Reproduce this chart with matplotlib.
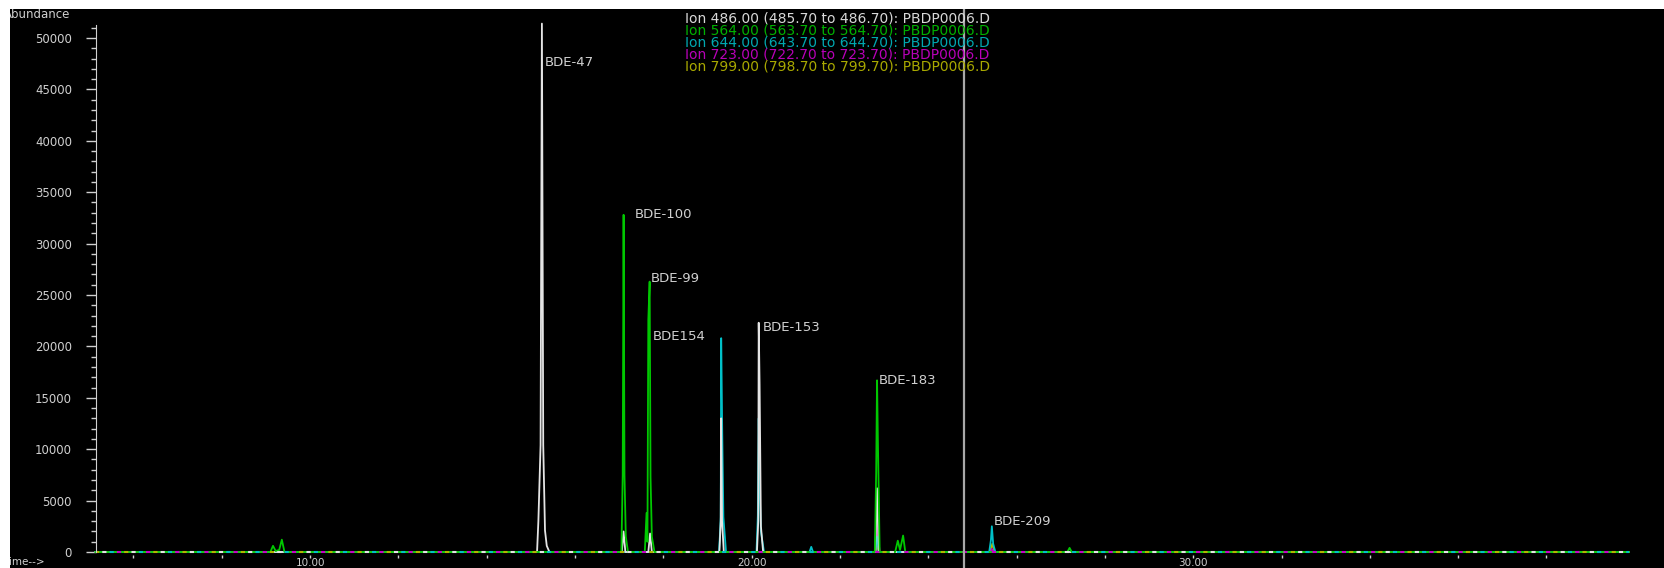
import matplotlib
matplotlib.use("Agg")
import matplotlib.pyplot as plt
from matplotlib.patches import Rectangle
from matplotlib.ticker import MultipleLocator, FormatStrFormatter

# --- data (time in min, abundance) ---
T_START, T_END = 5.14, 39.87

# Ion 486 (white)
ion486_t = [15.14, 15.17, 15.22, 15.25, 15.28, 15.32, 15.36, 15.42,
            17.06, 17.10, 17.14, 17.66, 17.70, 17.74,
            19.27, 19.30, 19.31, 19.33, 19.37,
            20.12, 20.15, 20.16, 20.18, 20.21, 20.26,
            22.80, 22.84, 22.88]
ion486_y = [0, 3000, 10400, 51400, 10400, 2100, 600, 0,
            0, 2000, 0, 0, 1800, 0,
            0, 3000, 13000, 3000, 0,
            0, 3000, 22300, 16300, 2500, 0,
            0, 6200, 0]

# Ion 564 (green)
ion564_t = [9.10, 9.16, 9.22, 9.30, 9.36, 9.42,
            17.05, 17.08, 17.10, 17.12, 17.15, 17.20,
            17.58, 17.62, 17.64, 17.66, 17.69, 17.71, 17.74, 17.80,
            22.79, 22.82, 22.84, 22.86, 22.90,
            23.25, 23.31, 23.36, 23.43, 23.48,
            27.15, 27.20, 27.25]
ion564_y = [0, 600, 100, 200, 1200, 0,
            0, 7500, 32800, 7500, 1500, 0,
            0, 3800, 1000, 22600, 26300, 7300, 1500, 0,
            0, 7700, 16700, 10600, 0,
            0, 1100, 200, 1600, 0,
            0, 400, 0]

# Ion 644 (cyan)
ion644_t = [19.26, 19.28, 19.30, 19.31, 19.33, 19.36, 19.42,
            20.11, 20.14, 20.16, 20.18, 20.21, 20.28,
            21.31, 21.35, 21.39,
            22.80, 22.84, 22.88,
            25.38, 25.42, 25.44, 25.47, 25.52]
ion644_y = [0, 1500, 3400, 20800, 13000, 3400, 0,
            0, 3500, 13000, 6300, 2000, 0,
            0, 500, 0,
            0, 1500, 0,
            0, 1200, 2500, 800, 0]

# Ion 723 (magenta)
ion723_t = [22.80, 22.83, 22.84, 22.86, 22.90, 25.40, 25.44, 25.48]
ion723_y = [0, 2000, 4500, 1500, 0, 0, 300, 0]

# Ion 799 (yellow)
ion799_t = [22.80, 22.84, 22.88, 25.40, 25.45, 25.50]
ion799_y = [0, 600, 0, 0, 800, 0]

legend_lines = [
    "Ion 486.00 (485.70 to 486.70): PBDP0006.D",
    "Ion 564.00 (563.70 to 564.70): PBDP0006.D",
    "Ion 644.00 (643.70 to 644.70): PBDP0006.D",
    "Ion 723.00 (722.70 to 723.70): PBDP0006.D",
    "Ion 799.00 (798.70 to 799.70): PBDP0006.D",
]

peak_names = ["BDE-47", "BDE-100", "BDE-99", "BDE154", "BDE-153", "BDE-183", "BDE-209"]
label_t = [15.32, 17.35, 17.71, 17.76, 20.26, 22.87, 25.49]
label_y = [47600, 32800, 26600, 21000, 21800, 16700, 2950]

cursor_t = 24.81

COLORS = {
    486: "#e4e4e4",
    564: "#00c800",
    644: "#00c0c8",
    723: "#c800c8",
    799: "#b4b400",
}
LEGEND_COLORS = ["#d8d8d8", "#00b000", "#00a8b0", "#b800b8", "#a8a800"]
TXT = "#d0d0d0"

W, H = 1664, 568


def full_trace(t, y):
    """Add flat baseline endpoints to a list of peak points"""
    return [T_START] + t + [T_END], [0] + y + [0]


fig = plt.figure(figsize=(W / 100, H / 100), dpi=100, facecolor="black")

# axes placement in pixels
left_px, right_px = 95.5, 1629.0
y0_px = 552.0
px_per_k = 10.28
ymin, ymax = -300, 51300
bottom_px = y0_px - ymin / 1000 * px_per_k
top_px = y0_px - ymax / 1000 * px_per_k
ax = fig.add_axes([left_px / W, 1 - bottom_px / H, (right_px - left_px) / W,
                   (bottom_px - top_px) / H])
ax.set_facecolor("black")
ax.set_xlim(T_START, T_END)
ax.set_ylim(ymin, ymax)

# traces: yellow, magenta, cyan, white, green on top
traces = [(799, ion799_t, ion799_y), (723, ion723_t, ion723_y),
          (644, ion644_t, ion644_y), (486, ion486_t, ion486_y),
          (564, ion564_t, ion564_y)]
for ion, t, y in traces:
    tt, yy = full_trace(t, y)
    ax.plot(tt, yy, color=COLORS[ion], lw=1.3, clip_on=False)

# multicolour dotted look of the baseline
for i, ion in enumerate([799, 723, 644, 486]):
    ax.plot([T_START, T_END], [0, 0], color=COLORS[ion], lw=1.5,
            linestyle=(i * 3.5, (2, 12)))

# peak labels
for name, t, y in zip(peak_names, label_t, label_y):
    ax.text(t, y, name, color=TXT, fontsize=9.5, va="center", ha="left")

# cursor line
span = bottom_px - top_px
ax.axvline(cursor_t, ymin=-(H - bottom_px) / span, ymax=(bottom_px - 9) / span,
           color="#a8a8a8", lw=1.6, clip_on=False, zorder=5)

# axes styling
for side in ["top", "right", "bottom"]:
    ax.spines[side].set_visible(False)
ax.spines["left"].set_color("#d0d0d0")
ax.spines["left"].set_bounds(0, ymax)

ax.yaxis.set_major_locator(MultipleLocator(5000))
ax.yaxis.set_minor_locator(MultipleLocator(1000))
ax.xaxis.set_major_locator(MultipleLocator(10))
ax.xaxis.set_minor_locator(MultipleLocator(2))
ax.xaxis.set_major_formatter(FormatStrFormatter("%.2f"))
ax.tick_params(axis="y", which="major", length=7, width=1, color="#d0d0d0",
               labelcolor=TXT, labelsize=8.5, pad=10)
ax.tick_params(axis="y", which="minor", length=3.5, width=1, color="#d0d0d0")
ax.tick_params(axis="x", which="major", length=2.5, width=1, color="#d0d0d0",
               labelcolor=TXT, labelsize=7.5, pad=-0.5)
ax.tick_params(axis="x", which="minor", length=1.8, width=1, color="#d0d0d0")

# ion legend
rows_y = [18, 30, 42, 54, 66]
for txt, col, ry in zip(legend_lines, LEGEND_COLORS, rows_y):
    fig.text(685 / W, 1 - ry / H, txt, color=col, fontsize=10, va="center", ha="left")

fig.text(4 / W, 1 - 15 / H, "Abundance", color=TXT, fontsize=8.5, va="center", ha="left")
fig.text(3 / W, 1 - 562 / H, "Time-->", color=TXT, fontsize=7.5, va="center", ha="left")

# white margins at top and left of the screenshot
fig.add_artist(Rectangle((0, 1 - 9 / H), 1, 9 / H, transform=fig.transFigure,
                         facecolor="white", edgecolor="none", zorder=20))
fig.add_artist(Rectangle((0, 0), 10 / W, 1, transform=fig.transFigure,
                         facecolor="white", edgecolor="none", zorder=20))

fig.savefig("out.png", dpi=100, facecolor="black")
